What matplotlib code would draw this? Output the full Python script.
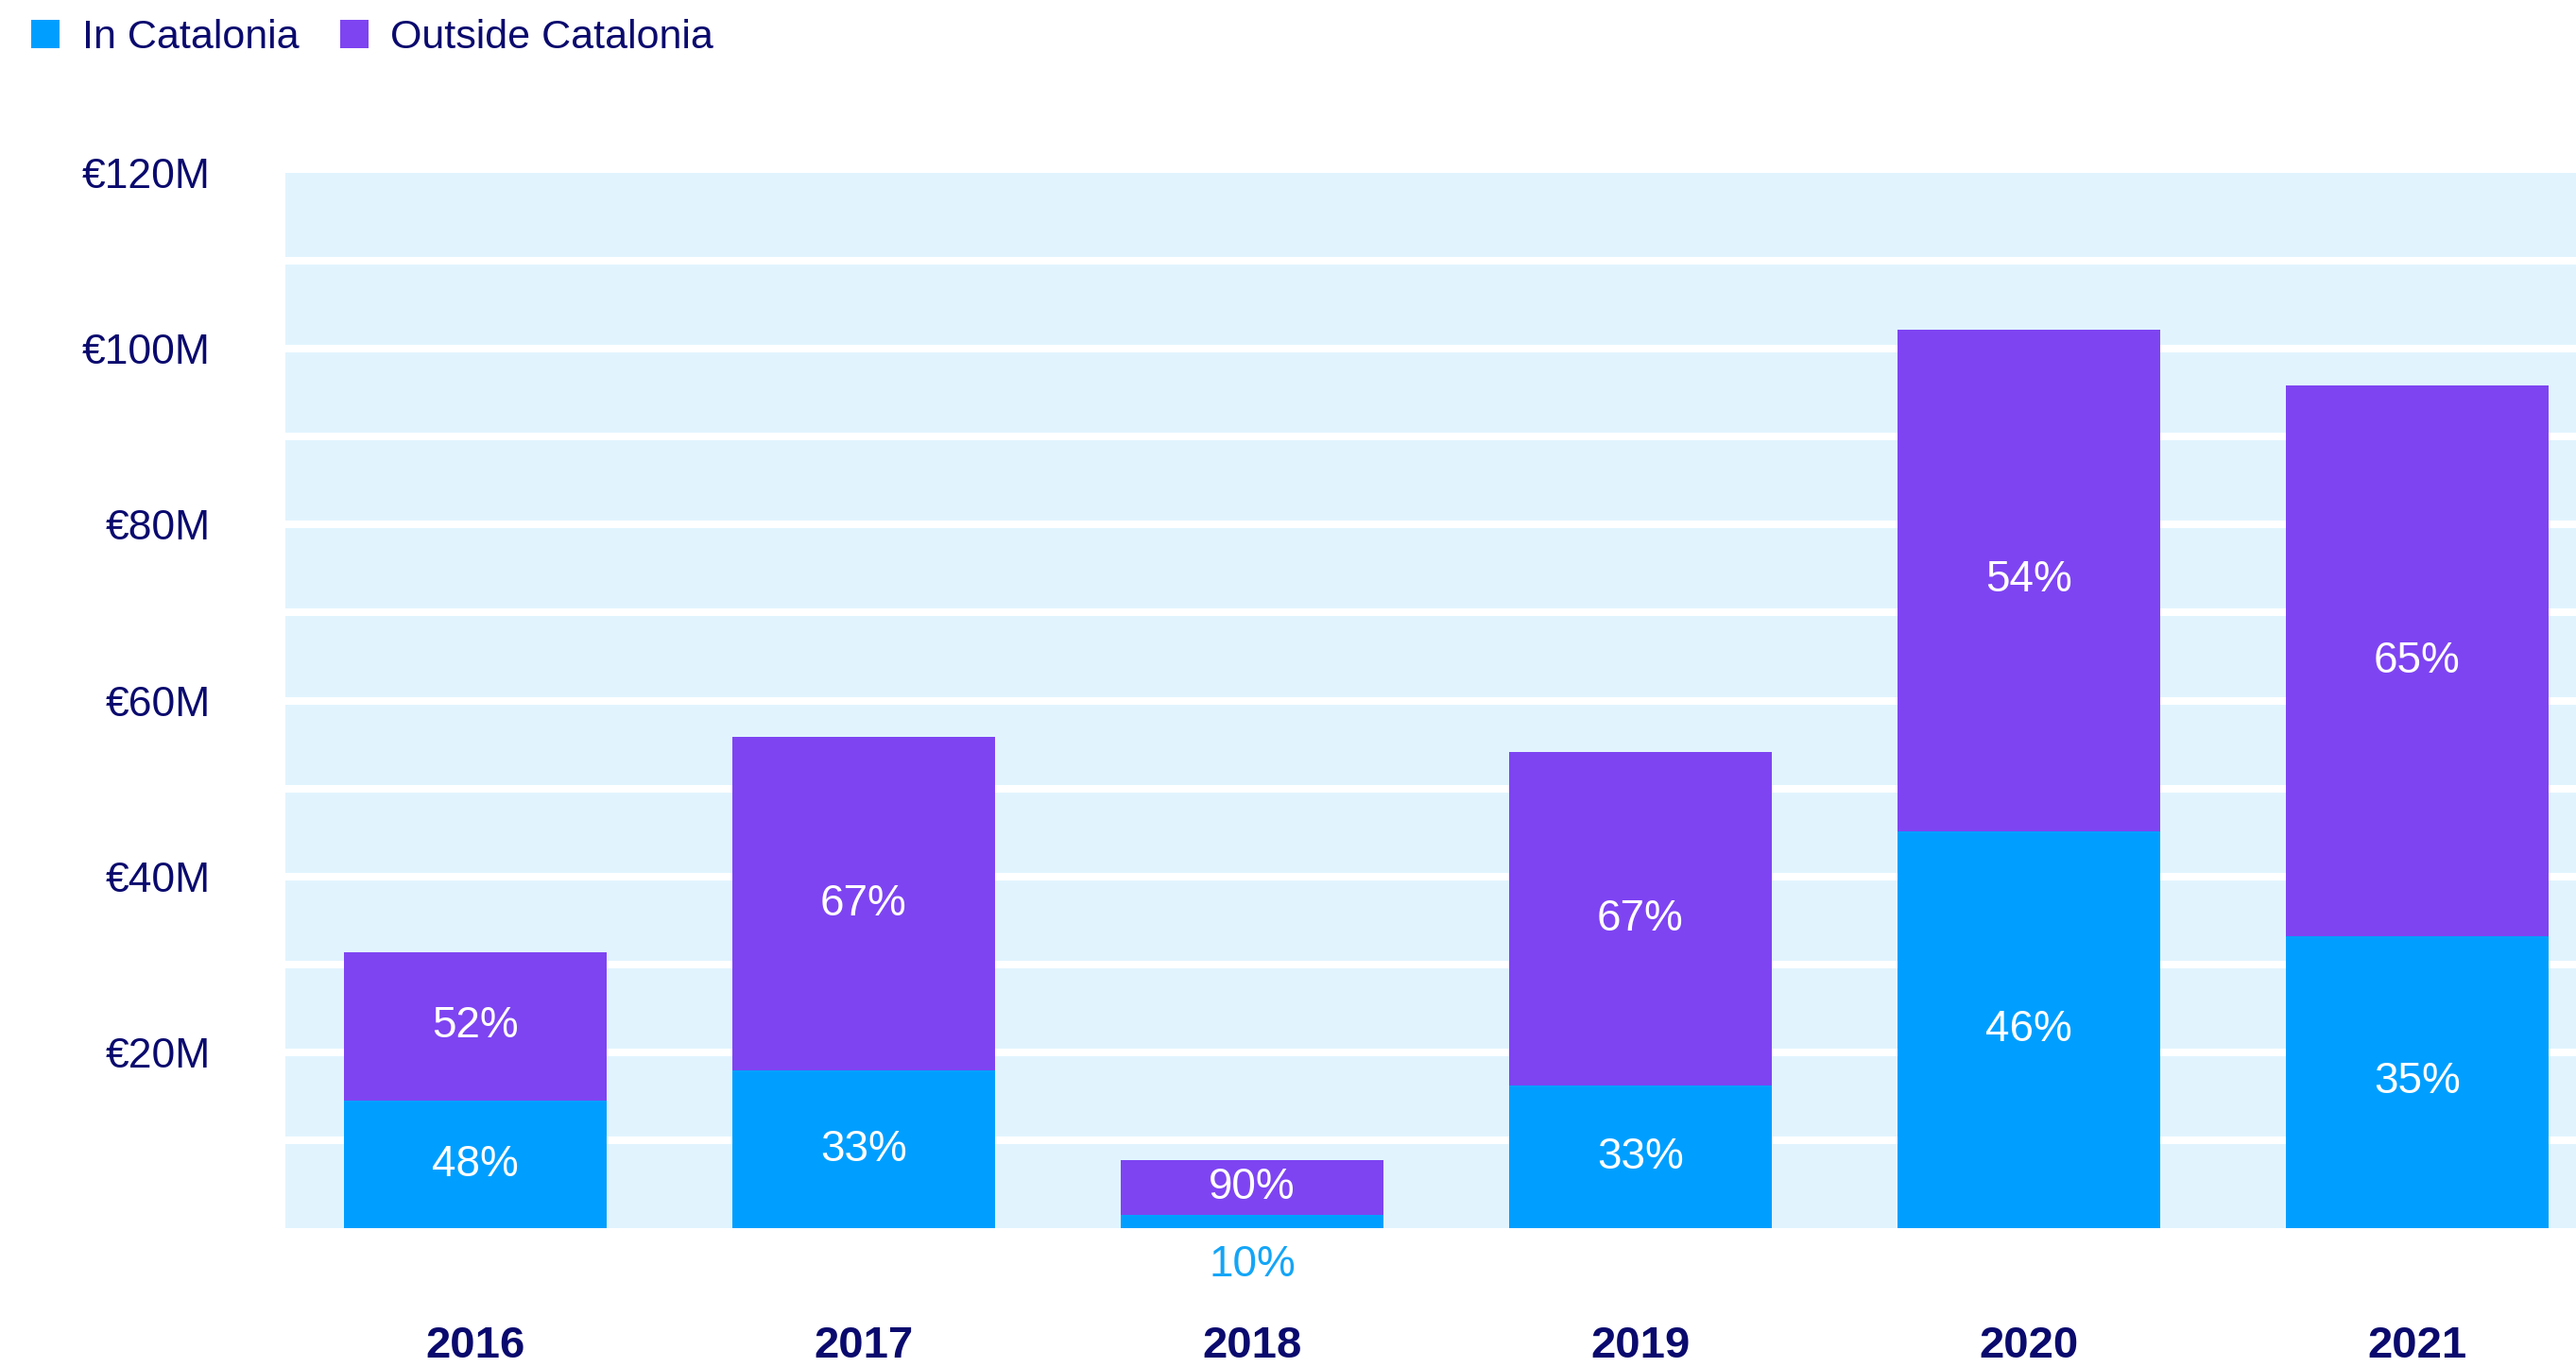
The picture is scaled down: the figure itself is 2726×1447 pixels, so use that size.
import matplotlib
matplotlib.use("Agg")
import matplotlib.pyplot as plt
from matplotlib.patches import Patch

# ---- data ----
years = ["2016", "2017", "2018", "2019", "2020", "2021"]
in_catalonia = [14.5, 17.9, 1.5, 16.2, 45.1, 33.2]        # € millions
outside_catalonia = [16.9, 38.0, 6.2, 37.9, 57.1, 62.6]   # € millions
in_pct = ["48%", "33%", "10%", "33%", "46%", "35%"]
out_pct = ["52%", "67%", "90%", "67%", "54%", "65%"]
y_ticks = [20, 40, 60, 80, 100, 120]
y_tick_labels = ["€20M", "€40M", "€60M", "€80M", "€100M", "€120M"]
series_names = ["In Catalonia", "Outside Catalonia"]

# ---- style ----
BLUE = "#009FFF"
PURPLE = "#7E44F2"
BG = "#E1F4FE"
NAVY = "#0A0A6E"
LIGHTBLUE_TXT = "#14A5F7"
plt.rcParams["font.family"] = ["Liberation Sans", "DejaVu Sans"]

W, H = 2726, 1447
fig = plt.figure(figsize=(W / 100, H / 100), dpi=100)
ax = fig.add_axes([302 / W, (H - 1300) / H, (W - 302) / W, 1117 / H])
ax.set_facecolor(BG)

x = list(range(len(years)))
bw = 0.676
ax.bar(x, in_catalonia, width=bw, color=BLUE, zorder=3, linewidth=0)
ax.bar(x, outside_catalonia, width=bw, bottom=in_catalonia, color=PURPLE,
       zorder=3, linewidth=0)

# white separator lines in the background
for v in range(10, 120, 10):
    ax.axhline(v, color="white", linewidth=5.8, zorder=1)

ax.set_xlim(-0.489, 5.409)
ax.set_ylim(0, 120)

for s in ax.spines.values():
    s.set_visible(False)

ax.set_yticks(y_ticks)
ax.set_yticklabels(y_tick_labels)
ax.set_xticks(x)
ax.set_xticklabels(years)
ax.tick_params(axis="y", length=0, pad=57, labelsize=32, labelcolor=NAVY)
ax.tick_params(axis="x", length=0, pad=74, labelsize=34, labelcolor=NAVY)
for t in ax.get_xticklabels():
    t.set_fontweight("bold")

# percentage labels
for i in range(len(years)):
    a, b = in_catalonia[i], outside_catalonia[i]
    ax.text(x[i], a + b / 2, out_pct[i], ha="center", va="center",
            color="white", fontsize=33, zorder=4)
    if a > 5:
        ax.text(x[i], a / 2, in_pct[i], ha="center", va="center",
                color="white", fontsize=33, zorder=4)
    else:
        ax.annotate(in_pct[i], xy=(x[i], 0), xytext=(0, -28),
                    textcoords="offset points", ha="center", va="center",
                    color=LIGHTBLUE_TXT, fontsize=33, annotation_clip=False)

handles = [Patch(facecolor=BLUE, edgecolor="none"),
           Patch(facecolor=PURPLE, edgecolor="none")]
leg = fig.legend(handles, series_names, loc="upper left",
                 bbox_to_anchor=(33 / W, 1 - 20 / H), ncol=2, frameon=False,
                 fontsize=31, handlelength=0.7, handleheight=0.7,
                 handletextpad=0.55, columnspacing=1.0, borderpad=0,
                 borderaxespad=0)
for t in leg.get_texts():
    t.set_color(NAVY)

fig.savefig("out.png", dpi=100)
